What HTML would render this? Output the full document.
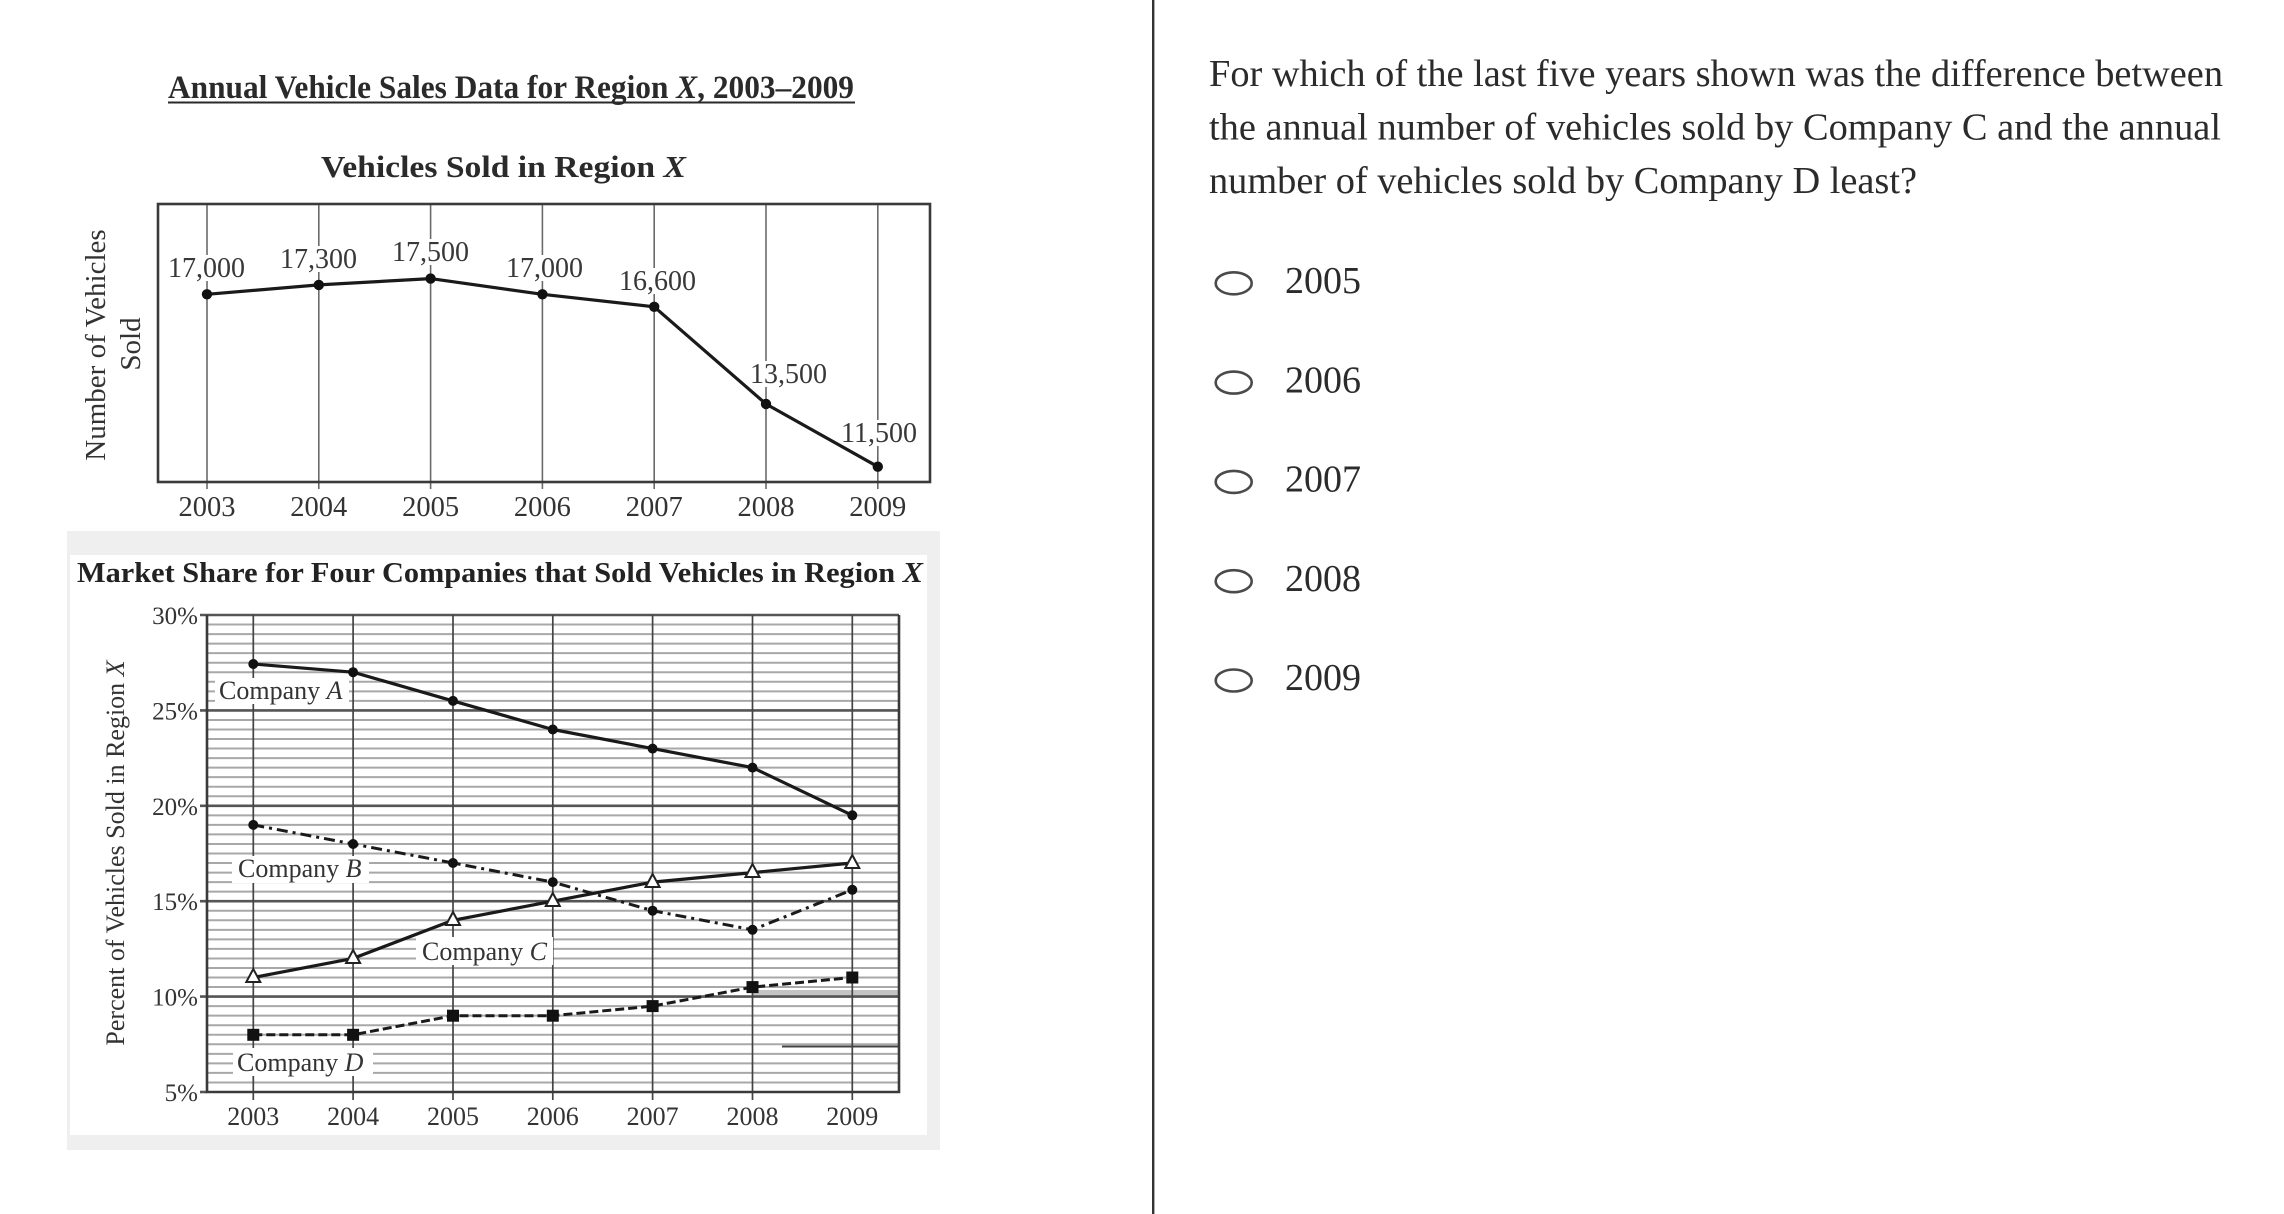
<!DOCTYPE html>
<html>
<head>
<meta charset="utf-8">
<style>
html,body{margin:0;padding:0;background:#fff;}
body{width:2284px;height:1214px;overflow:hidden;position:relative;}
svg{position:absolute;left:0;top:0;}
text{font-family:"Liberation Serif","Times New Roman",serif;}
</style>
</head>
<body>
<svg width="2284" height="1214" viewBox="0 0 2284 1214" xmlns="http://www.w3.org/2000/svg">
  <rect x="0" y="0" width="2284" height="1214" fill="#ffffff"/>

  <!-- ================= TOP CHART ================= -->
  <text x="168" y="98" font-size="33" font-weight="bold" fill="#2a2a2a" textLength="686" lengthAdjust="spacingAndGlyphs">Annual Vehicle Sales Data for Region <tspan font-style="italic">X</tspan>, 2003–2009</text>
  <line x1="168" y1="102.5" x2="855" y2="102.5" stroke="#2a2a2a" stroke-width="2"/>

  <text x="321" y="177" font-size="31" font-weight="bold" fill="#2a2a2a" textLength="365" lengthAdjust="spacingAndGlyphs">Vehicles Sold in Region <tspan font-style="italic">X</tspan></text>

  <!-- vertical grid lines -->
  <g stroke="#6a6a6a" stroke-width="1.6">
    <line x1="207" y1="204" x2="207" y2="489"/>
    <line x1="318.8" y1="204" x2="318.8" y2="489"/>
    <line x1="430.6" y1="204" x2="430.6" y2="489"/>
    <line x1="542.4" y1="204" x2="542.4" y2="489"/>
    <line x1="654.2" y1="204" x2="654.2" y2="489"/>
    <line x1="766" y1="204" x2="766" y2="489"/>
    <line x1="877.8" y1="204" x2="877.8" y2="489"/>
  </g>
  <rect x="158" y="204" width="772" height="278" fill="none" stroke="#3a3a3a" stroke-width="2.6"/>

  <!-- label backgrounds (hide grid lines) -->
  <g fill="#ffffff">
    <rect x="166" y="255" width="82" height="26"/>
    <rect x="278" y="246" width="82" height="26"/>
    <rect x="390" y="239" width="82" height="26"/>
    <rect x="504" y="255" width="82" height="26"/>
    <rect x="617" y="268" width="82" height="26"/>
    <rect x="748" y="361" width="82" height="26"/>
    <rect x="839" y="420" width="82" height="26"/>
  </g>

  <polyline points="207,294.3 318.8,284.9 430.6,278.6 542.4,294.3 654.2,306.8 766,404 877.8,466.7" fill="none" stroke="#1a1a1a" stroke-width="3.2" stroke-linejoin="round"/>
  <g fill="#111">
    <circle cx="207" cy="294.3" r="5.2"/>
    <circle cx="318.8" cy="284.9" r="5.2"/>
    <circle cx="430.6" cy="278.6" r="5.2"/>
    <circle cx="542.4" cy="294.3" r="5.2"/>
    <circle cx="654.2" cy="306.8" r="5.2"/>
    <circle cx="766" cy="404" r="5.2"/>
    <circle cx="877.8" cy="466.7" r="5.2"/>
  </g>

  <g font-size="28" fill="#383838">
    <text x="168" y="277">17,000</text>
    <text x="280" y="268">17,300</text>
    <text x="392" y="261">17,500</text>
    <text x="506" y="277">17,000</text>
    <text x="619" y="290">16,600</text>
    <text x="750" y="383">13,500</text>
    <text x="841" y="442">11,500</text>
  </g>

  <g font-size="28.5" fill="#333" text-anchor="middle">
    <text x="207" y="516">2003</text>
    <text x="318.8" y="516">2004</text>
    <text x="430.6" y="516">2005</text>
    <text x="542.4" y="516">2006</text>
    <text x="654.2" y="516">2007</text>
    <text x="766" y="516">2008</text>
    <text x="877.8" y="516">2009</text>
  </g>

  <text transform="translate(105,345) rotate(-90)" text-anchor="middle" font-size="29" fill="#333">Number of Vehicles</text>
  <text transform="translate(140,344) rotate(-90)" text-anchor="middle" font-size="29" fill="#333">Sold</text>

  <!-- ================= BOTTOM CHART ================= -->
  <rect x="67" y="531" width="873" height="619" fill="#efefef"/>
  <rect x="70" y="555" width="857" height="580" fill="#ffffff"/>

  <text x="77" y="582" font-size="29" font-weight="bold" fill="#222" textLength="846" lengthAdjust="spacingAndGlyphs">Market Share for Four Companies that Sold Vehicles in Region <tspan font-style="italic">X</tspan></text>

  <!-- minor horizontal grid (every 0.5%) -->
  <g stroke="#a8a8a8" stroke-width="2">
    <line x1="207" y1="1082.46" x2="899" y2="1082.46"/>
    <line x1="207" y1="1072.92" x2="899" y2="1072.92"/>
    <line x1="207" y1="1063.38" x2="899" y2="1063.38"/>
    <line x1="207" y1="1053.84" x2="899" y2="1053.84"/>
    <line x1="207" y1="1044.3" x2="899" y2="1044.3"/>
    <line x1="207" y1="1034.76" x2="899" y2="1034.76"/>
    <line x1="207" y1="1025.22" x2="899" y2="1025.22"/>
    <line x1="207" y1="1015.68" x2="899" y2="1015.68"/>
    <line x1="207" y1="1006.14" x2="899" y2="1006.14"/>
    <line x1="207" y1="987.06" x2="899" y2="987.06"/>
    <line x1="207" y1="977.52" x2="899" y2="977.52"/>
    <line x1="207" y1="967.98" x2="899" y2="967.98"/>
    <line x1="207" y1="958.44" x2="899" y2="958.44"/>
    <line x1="207" y1="948.9" x2="899" y2="948.9"/>
    <line x1="207" y1="939.36" x2="899" y2="939.36"/>
    <line x1="207" y1="929.82" x2="899" y2="929.82"/>
    <line x1="207" y1="920.28" x2="899" y2="920.28"/>
    <line x1="207" y1="910.74" x2="899" y2="910.74"/>
    <line x1="207" y1="891.66" x2="899" y2="891.66"/>
    <line x1="207" y1="882.12" x2="899" y2="882.12"/>
    <line x1="207" y1="872.58" x2="899" y2="872.58"/>
    <line x1="207" y1="863.04" x2="899" y2="863.04"/>
    <line x1="207" y1="853.5" x2="899" y2="853.5"/>
    <line x1="207" y1="843.96" x2="899" y2="843.96"/>
    <line x1="207" y1="834.42" x2="899" y2="834.42"/>
    <line x1="207" y1="824.88" x2="899" y2="824.88"/>
    <line x1="207" y1="815.34" x2="899" y2="815.34"/>
    <line x1="207" y1="796.26" x2="899" y2="796.26"/>
    <line x1="207" y1="786.72" x2="899" y2="786.72"/>
    <line x1="207" y1="777.18" x2="899" y2="777.18"/>
    <line x1="207" y1="767.64" x2="899" y2="767.64"/>
    <line x1="207" y1="758.1" x2="899" y2="758.1"/>
    <line x1="207" y1="748.56" x2="899" y2="748.56"/>
    <line x1="207" y1="739.02" x2="899" y2="739.02"/>
    <line x1="207" y1="729.48" x2="899" y2="729.48"/>
    <line x1="207" y1="719.94" x2="899" y2="719.94"/>
    <line x1="207" y1="700.86" x2="899" y2="700.86"/>
    <line x1="207" y1="691.32" x2="899" y2="691.32"/>
    <line x1="207" y1="681.78" x2="899" y2="681.78"/>
    <line x1="207" y1="672.24" x2="899" y2="672.24"/>
    <line x1="207" y1="662.7" x2="899" y2="662.7"/>
    <line x1="207" y1="653.16" x2="899" y2="653.16"/>
    <line x1="207" y1="643.62" x2="899" y2="643.62"/>
    <line x1="207" y1="634.08" x2="899" y2="634.08"/>
    <line x1="207" y1="624.54" x2="899" y2="624.54"/>
  </g>
  <!-- odd dark segment -->
  <line x1="782" y1="1046.5" x2="899" y2="1046.5" stroke="#444" stroke-width="2"/>
  <rect x="752" y="990" width="147" height="6" fill="#c4c4c4"/>

  <!-- major horizontal grid -->
  <g stroke="#555" stroke-width="2.6">
    <line x1="200" y1="996.6" x2="899" y2="996.6"/>
    <line x1="200" y1="901.2" x2="899" y2="901.2"/>
    <line x1="200" y1="805.8" x2="899" y2="805.8"/>
    <line x1="200" y1="710.4" x2="899" y2="710.4"/>
    <line x1="200" y1="615" x2="899" y2="615"/>
    <line x1="200" y1="1092" x2="207" y2="1092"/>
  </g>

  <!-- vertical grid lines -->
  <g stroke="#444" stroke-width="1.7">
    <line x1="253.3" y1="615" x2="253.3" y2="1100"/>
    <line x1="353.1" y1="615" x2="353.1" y2="1100"/>
    <line x1="453" y1="615" x2="453" y2="1100"/>
    <line x1="552.8" y1="615" x2="552.8" y2="1100"/>
    <line x1="652.6" y1="615" x2="652.6" y2="1100"/>
    <line x1="752.5" y1="615" x2="752.5" y2="1100"/>
    <line x1="852.3" y1="615" x2="852.3" y2="1100"/>
  </g>

  <!-- label backgrounds (above grid) -->
  <g fill="#ffffff">
    <rect x="215" y="678" width="134" height="26"/>
    <rect x="232" y="856" width="137" height="27"/>
    <rect x="416" y="937" width="137" height="28"/>
    <rect x="233" y="1048" width="140" height="28"/>
  </g>

  <!-- frame -->
  <polyline points="207,615 207,1092 899,1092 899,615" fill="none" stroke="#3a3a3a" stroke-width="2.6"/>

  <!-- Company labels -->
  <g font-size="26" fill="#333">
    <text x="219" y="699">Company <tspan font-style="italic">A</tspan></text>
    <text x="238" y="877">Company <tspan font-style="italic">B</tspan></text>
    <text x="422" y="960">Company <tspan font-style="italic">C</tspan></text>
    <text x="237" y="1071">Company <tspan font-style="italic">D</tspan></text>
  </g>

  <!-- Series A -->
  <polyline points="253.3,664 353.1,672.2 453,700.9 552.8,729.5 652.6,748.6 752.5,767.6 852.3,815.3" fill="none" stroke="#1a1a1a" stroke-width="3.2" stroke-linejoin="round"/>
  <g fill="#111">
    <circle cx="253.3" cy="664" r="5"/>
    <circle cx="353.1" cy="672.2" r="5"/>
    <circle cx="453" cy="700.9" r="5"/>
    <circle cx="552.8" cy="729.5" r="5"/>
    <circle cx="652.6" cy="748.6" r="5"/>
    <circle cx="752.5" cy="767.6" r="5"/>
    <circle cx="852.3" cy="815.3" r="5"/>
  </g>

  <!-- Series B (dash-dot) -->
  <polyline points="253.3,824.9 353.1,844 453,863 552.8,882.1 652.6,910.7 752.5,929.8 852.3,889.8" fill="none" stroke="#1a1a1a" stroke-width="3" stroke-dasharray="11 5 3 5"/>
  <g fill="#111">
    <circle cx="253.3" cy="824.9" r="5"/>
    <circle cx="353.1" cy="844" r="5"/>
    <circle cx="453" cy="863" r="5"/>
    <circle cx="552.8" cy="882.1" r="5"/>
    <circle cx="652.6" cy="910.7" r="5"/>
    <circle cx="752.5" cy="929.8" r="5"/>
    <circle cx="852.3" cy="889.8" r="5"/>
  </g>

  <!-- Series C (solid, open triangles) -->
  <polyline points="253.3,977.5 353.1,958.4 453,920.3 552.8,901.2 652.6,882.1 752.5,872.6 852.3,863" fill="none" stroke="#1a1a1a" stroke-width="3.2" stroke-linejoin="round"/>
  <g fill="#ffffff" stroke="#222" stroke-width="2">
    <polygon points="253.3,969 246.3,982 260.3,982"/>
    <polygon points="353.1,950 346.1,963 360.1,963"/>
    <polygon points="453,912 446,925 460,925"/>
    <polygon points="552.8,893 545.8,906 559.8,906"/>
    <polygon points="652.6,874 645.6,887 659.6,887"/>
    <polygon points="752.5,864 745.5,877 759.5,877"/>
    <polygon points="852.3,855 845.3,868 859.3,868"/>
  </g>

  <!-- Series D (dashed, squares) -->
  <polyline points="253.3,1034.8 353.1,1034.8 453,1015.7 552.8,1015.7 652.6,1006.1 752.5,987.1 852.3,977.5" fill="none" stroke="#1a1a1a" stroke-width="3" stroke-dasharray="9 4"/>
  <g fill="#111">
    <rect x="247.3" y="1028.8" width="12" height="12"/>
    <rect x="347.1" y="1028.8" width="12" height="12"/>
    <rect x="447" y="1009.7" width="12" height="12"/>
    <rect x="546.8" y="1009.7" width="12" height="12"/>
    <rect x="646.6" y="1000.1" width="12" height="12"/>
    <rect x="746.5" y="981.1" width="12" height="12"/>
    <rect x="846.3" y="971.5" width="12" height="12"/>
  </g>

  <!-- Y tick labels -->
  <g font-size="25" fill="#333" text-anchor="end">
    <text x="198" y="624">30%</text>
    <text x="198" y="719.4">25%</text>
    <text x="198" y="814.8">20%</text>
    <text x="198" y="910.2">15%</text>
    <text x="198" y="1005.6">10%</text>
    <text x="198" y="1101">5%</text>
  </g>

  <!-- X labels -->
  <g font-size="26" fill="#333" text-anchor="middle">
    <text x="253.3" y="1125">2003</text>
    <text x="353.1" y="1125">2004</text>
    <text x="453" y="1125">2005</text>
    <text x="552.8" y="1125">2006</text>
    <text x="652.6" y="1125">2007</text>
    <text x="752.5" y="1125">2008</text>
    <text x="852.3" y="1125">2009</text>
  </g>

  <text transform="translate(124,853) rotate(-90)" text-anchor="middle" font-size="26" fill="#333">Percent of Vehicles Sold in Region <tspan font-style="italic">X</tspan></text>

  <!-- ================= DIVIDER ================= -->
  <rect x="1152" y="0" width="2.4" height="1214" fill="#333"/>

  <!-- ================= QUESTION ================= -->
  <g font-size="38" fill="#2b2b2b">
    <text x="1209" y="86" textLength="1014" lengthAdjust="spacingAndGlyphs">For which of the last five years shown was the difference between</text>
    <text x="1209" y="139.5" textLength="1012" lengthAdjust="spacingAndGlyphs">the annual number of vehicles sold by Company C and the annual</text>
    <text x="1209" y="193" textLength="708" lengthAdjust="spacingAndGlyphs">number of vehicles sold by Company D least?</text>
  </g>

  <g fill="none" stroke="#4a4a4a" stroke-width="2.6">
    <ellipse cx="1233.7" cy="283.3" rx="18" ry="11"/>
    <ellipse cx="1233.7" cy="382.6" rx="18" ry="11"/>
    <ellipse cx="1233.7" cy="481.9" rx="18" ry="11"/>
    <ellipse cx="1233.7" cy="581.2" rx="18" ry="11"/>
    <ellipse cx="1233.7" cy="680.5" rx="18" ry="11"/>
  </g>
  <g font-size="38" fill="#2b2b2b">
    <text x="1285" y="293">2005</text>
    <text x="1285" y="392.3">2006</text>
    <text x="1285" y="491.6">2007</text>
    <text x="1285" y="590.9">2008</text>
    <text x="1285" y="690.2">2009</text>
  </g>
</svg>
</body>
</html>
